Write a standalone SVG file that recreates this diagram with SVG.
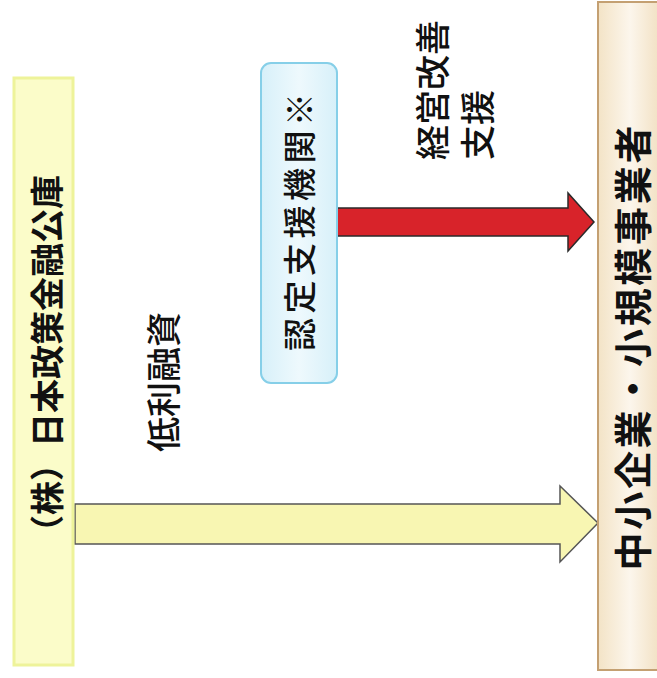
<svg xmlns="http://www.w3.org/2000/svg" width="657" height="678" viewBox="0 0 657 678">
<style>
text{font-family:"Noto Sans CJK JP","Noto Sans CJK SC",sans-serif;fill:#111;}
.b{font-weight:bold;}
.m{font-weight:500;}
</style>
<defs>
<linearGradient id="beige" x1="0" y1="0" x2="1" y2="0">
<stop offset="0" stop-color="#f3e3c6"/>
<stop offset="0.5" stop-color="#fcf6ec"/>
<stop offset="1" stop-color="#f1dfc0"/>
</linearGradient>
<linearGradient id="blue" x1="0" y1="0" x2="1" y2="0">
<stop offset="0" stop-color="#d7f0f9"/>
<stop offset="0.5" stop-color="#eef9fd"/>
<stop offset="1" stop-color="#d7f0f9"/>
</linearGradient>
</defs>
<rect width="657" height="678" fill="#ffffff"/>
<g id="connectors">
<polygon points="75,504 560,504 560,486 598,523 560,562 560,544 75,544" fill="#f8f6b2" stroke="#555" stroke-width="1.5"/>
<polygon points="334,208 568,208 568,193 594,222 568,251 568,236 334,236" fill="#d8232a" stroke="#2a2a2a" stroke-width="1.5"/>
</g>
<g id="jfc">
<rect x="14" y="78" width="59" height="587" fill="#fbfcc9" stroke="#eef39a" stroke-width="3"/>
<text class="b" font-size="34" text-anchor="middle" dominant-baseline="central" transform="translate(45,362) rotate(-90)">（株）日本政策金融公庫</text>
</g>
<g id="sme">
<rect x="598" y="2" width="64" height="668" fill="url(#beige)" stroke="#c4a072" stroke-width="2"/>
<text class="b" font-size="38" text-anchor="middle" dominant-baseline="central" transform="translate(630,348) rotate(-90)" textLength="445" lengthAdjust="spacing">中小企業・小規模事業者</text>
</g>
<g id="nintei">
<rect x="261" y="63" width="76" height="320" rx="10" ry="10" fill="url(#blue)" stroke="#86cfe8" stroke-width="2"/>
<text class="m" font-size="33" text-anchor="middle" dominant-baseline="central" transform="translate(298,222) rotate(-90)" textLength="258" lengthAdjust="spacing">認定支援機関※</text>
</g>
<g id="label-loan">
<text class="m" font-size="35" text-anchor="middle" dominant-baseline="central" transform="translate(161,382) rotate(-90)">低利融資</text>
</g>
<g id="label-support">
<text class="m" font-size="35" text-anchor="start" dominant-baseline="central" transform="translate(430,160) rotate(-90)">経営改善</text>
<text class="m" font-size="35" text-anchor="start" dominant-baseline="central" transform="translate(475,160) rotate(-90)">支援</text>
</g>
</svg>
